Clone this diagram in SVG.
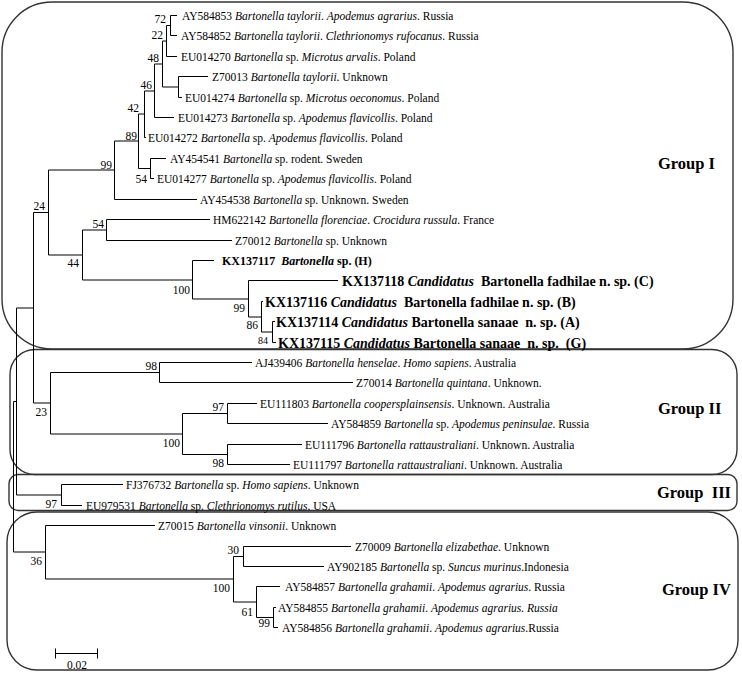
<svg xmlns="http://www.w3.org/2000/svg" width="742" height="673" viewBox="0 0 742 673">
<style>
text{font-family:"Liberation Serif","Times New Roman",serif;fill:#000;white-space:pre}
.t{font-size:11.5px}
.i{font-style:italic}
.bs{font-size:11.5px;text-anchor:end}
.sm{font-size:10px}
.kx{font-size:14px;font-weight:bold}
.kh{font-size:12px;font-weight:bold}
.g{font-size:16.5px;font-weight:bold}
.br{fill:none;stroke:#000;stroke-width:1}
.box{fill:none;stroke:#333;stroke-width:1.4}
</style>
<rect width="742" height="673" fill="#fff"/>
<g id="boxes">
<rect id="box-group1" class="box" x="2" y="2" width="731" height="347" rx="50"/>
<rect id="box-group2" class="box" x="10" y="349.5" width="727" height="125" rx="25"/>
<rect id="box-group3" class="box" x="9" y="474.5" width="728" height="36" rx="9"/>
<rect id="box-group4" class="box" x="7" y="512" width="731" height="158" rx="30"/>
</g>
<g id="connectors" class="br">
<path d="M170.5 15.5V35.5M170.5 15.5H177M170.5 35.5H177"/>
<path d="M166.5 25.5V56.5M166.5 25.5H170.5M166.5 56.5H177"/>
<path d="M178.5 76.5V97.5M178.5 76.5H208M178.5 97.5H182"/>
<path d="M162.5 41V87M162.5 41H166.5M162.5 87H178.5"/>
<path d="M154.5 64V117.5M154.5 64H162.5M154.5 117.5H174"/>
<path d="M144.5 91V137.5M144.5 91H154.5M144.5 137.5H146"/>
<path d="M150.5 158.5V178.5M150.5 158.5H166M150.5 178.5H154"/>
<path d="M138.5 114V168.5M138.5 114H144.5M138.5 168.5H150.5"/>
<path d="M114.5 141V199.5M114.5 141H138.5M114.5 199.5H197"/>
<path d="M106.5 219.5V240.5M106.5 219.5H210M106.5 240.5H232"/>
<path d="M272.5 321.5V342.5M272.5 321.5H275M272.5 342.5H276"/>
<path d="M261.5 301.5V332M261.5 301.5H263M261.5 332H272.5"/>
<path d="M248.5 280.5V317M248.5 280.5H338M248.5 317H261.5"/>
<path d="M192.5 260.5V299M192.5 260.5H214M192.5 299H248.5"/>
<path d="M82.5 230V280M82.5 230H106.5M82.5 280H192.5"/>
<path d="M48.5 170V255M48.5 170H114.5M48.5 255H82.5"/>
<path d="M159.5 362.5V382.5M159.5 362.5H252M159.5 382.5H353"/>
<path d="M227.5 403.5V423.5M227.5 403.5H257M227.5 423.5H328"/>
<path d="M227.5 444.5V464.5M227.5 444.5H302M227.5 464.5H290"/>
<path d="M182.5 413.5V454.5M182.5 413.5H227.5M182.5 454.5H227.5"/>
<path d="M50.5 372.5V434M50.5 372.5H159.5M50.5 434H182.5"/>
<path d="M33.5 212.5V403M33.5 212.5H48.5M33.5 403H50.5"/>
<path d="M61.5 484.5V505.5M61.5 484.5H123M61.5 505.5H82"/>
<path d="M16.5 308V495M16.5 308H33.5M16.5 495H61.5"/>
<path d="M243.5 546.5V566.5M243.5 546.5H351M243.5 566.5H324"/>
<path d="M273.5 607.5V627.5M273.5 607.5H276M273.5 627.5H278"/>
<path d="M256.5 586.5V617.5M256.5 586.5H280M256.5 617.5H273.5"/>
<path d="M233.5 556.5V602M233.5 556.5H243.5M233.5 602H256.5"/>
<path d="M45.5 525.5V579M45.5 525.5H155M45.5 579H233.5"/>
<path d="M13.5 401.5V552M13.5 401.5H16.5M13.5 552H45.5"/>
<path d="M55 653.5H98M55.5 648.5V658.5M97.5 648.5V658.5"/>
</g>
<g id="bootstrap">
<text class="bs" x="166" y="23">72</text>
<text class="bs" x="163" y="39">22</text>
<text class="bs" x="159" y="62">48</text>
<text class="bs" x="152" y="89">46</text>
<text class="bs" x="139" y="112">42</text>
<text class="bs" x="137" y="140">89</text>
<text class="bs" x="147" y="183">54</text>
<text class="bs" x="112" y="169">99</text>
<text class="bs" x="45" y="210">24</text>
<text class="bs" x="104" y="228">54</text>
<text class="bs" x="79" y="267">44</text>
<text class="bs" x="190" y="294">100</text>
<text class="bs" x="245" y="312">99</text>
<text class="bs" x="258" y="329">86</text>
<text class="bs sm" x="268" y="344">84</text>
<text class="bs" x="157" y="370">98</text>
<text class="bs" x="47" y="416">23</text>
<text class="bs" x="224" y="411">97</text>
<text class="bs" x="180" y="447">100</text>
<text class="bs" x="224" y="467">98</text>
<text class="bs" x="57" y="508">97</text>
<text class="bs" x="42" y="565">36</text>
<text class="bs" x="239" y="554">30</text>
<text class="bs" x="230" y="592">100</text>
<text class="bs" x="253" y="616">61</text>
<text class="bs" x="270" y="627">99</text>
</g>
<g id="leaf-AY584853"><text class="t" x="182" y="19.5">AY584853 <tspan class="i">Bartonella taylorii</tspan>. <tspan class="i">Apodemus agrarius</tspan>. Russia</text></g>
<g id="leaf-AY584852"><text class="t" x="181" y="39.5">AY584852 <tspan class="i">Bartonella taylorii</tspan>. <tspan class="i">Clethrionomys rufocanus</tspan>. Russia</text></g>
<g id="leaf-EU014270"><text class="t" x="181" y="60.5">EU014270 <tspan class="i">Bartonella</tspan> sp. <tspan class="i">Microtus arvalis</tspan>. Poland</text></g>
<g id="leaf-Z70013"><text class="t" x="212" y="80.5">Z70013 <tspan class="i">Bartonella taylorii</tspan>. Unknown</text></g>
<g id="leaf-EU014274"><text class="t" x="185" y="101.5">EU014274 <tspan class="i">Bartonella</tspan> sp. <tspan class="i">Microtus oeconomus</tspan>. Poland</text></g>
<g id="leaf-EU014273"><text class="t" x="178" y="121.5">EU014273 <tspan class="i">Bartonella</tspan> sp. <tspan class="i">Apodemus flavicollis</tspan>. Poland</text></g>
<g id="leaf-EU014272"><text class="t" x="148" y="141.5">EU014272 <tspan class="i">Bartonella</tspan> sp. <tspan class="i">Apodemus flavicollis</tspan>. Poland</text></g>
<g id="leaf-AY454541"><text class="t" x="170" y="162.5">AY454541 <tspan class="i">Bartonella</tspan> sp. rodent. Sweden</text></g>
<g id="leaf-EU014277"><text class="t" x="157" y="182.5">EU014277 <tspan class="i">Bartonella</tspan> sp. <tspan class="i">Apodemus flavicollis</tspan>. Poland</text></g>
<g id="leaf-AY454538"><text class="t" x="200" y="203.5">AY454538 <tspan class="i">Bartonella</tspan> sp. Unknown. Sweden</text></g>
<g id="leaf-HM622142"><text class="t" x="213" y="223.5">HM622142 <tspan class="i">Bartonella florenciae</tspan>. <tspan class="i">Crocidura russula</tspan>. France</text></g>
<g id="leaf-Z70012"><text class="t" x="235" y="244.5">Z70012 <tspan class="i">Bartonella</tspan> sp. Unknown</text></g>
<g id="leaf-KX137117"><text class="kh" x="222" y="265">KX137117  <tspan class="i">Bartonella</tspan> sp. (H)</text></g>
<g id="leaf-KX137118"><text class="kx" x="342" y="285.5">KX137118 <tspan class="i">Candidatus</tspan>  Bartonella fadhilae n. sp. (C)</text></g>
<g id="leaf-KX137116"><text class="kx" x="265" y="306.5">KX137116 <tspan class="i">Candidatus</tspan>  Bartonella fadhilae n. sp. (B)</text></g>
<g id="leaf-KX137114"><text class="kx" x="276" y="326.5">KX137114 <tspan class="i">Candidatus</tspan> Bartonella sanaae  n. sp. (A)</text></g>
<g id="leaf-KX137115"><text class="kx" x="278" y="347.5">KX137115 <tspan class="i">Candidatus</tspan> Bartonella sanaae  n. sp.  (G)</text></g>
<g id="leaf-AJ439406"><text class="t" x="255" y="366.5">AJ439406 <tspan class="i">Bartonella henselae</tspan>. <tspan class="i">Homo sapiens</tspan>. Australia</text></g>
<g id="leaf-Z70014"><text class="t" x="356" y="386.5">Z70014 <tspan class="i">Bartonella quintana</tspan>. Unknown.</text></g>
<g id="leaf-EU111803"><text class="t" x="260" y="407.5">EU111803 <tspan class="i">Bartonella coopersplainsensis</tspan>. Unknown. Australia</text></g>
<g id="leaf-AY584859"><text class="t" x="331" y="427.5">AY584859 <tspan class="i">Bartonella</tspan> sp. <tspan class="i">Apodemus peninsulae</tspan>. Russia</text></g>
<g id="leaf-EU111796"><text class="t" x="305" y="448.5">EU111796 <tspan class="i">Bartonella rattaustraliani</tspan>. Unknown. Australia</text></g>
<g id="leaf-EU111797"><text class="t" x="293" y="468.5">EU111797 <tspan class="i">Bartonella rattaustraliani</tspan>. Unknown. Australia</text></g>
<g id="leaf-FJ376732"><text class="t" x="126" y="488.5">FJ376732 <tspan class="i">Bartonella</tspan> sp. <tspan class="i">Homo sapiens</tspan>. Unknown</text></g>
<g id="leaf-EU979531"><text class="t" x="86" y="509.5">EU979531 <tspan class="i">Bartonella</tspan> sp. <tspan class="i">Clethrionomys rutilus</tspan>. USA</text></g>
<g id="leaf-Z70015"><text class="t" x="158" y="529.5">Z70015 <tspan class="i">Bartonella vinsonii</tspan>. Unknown</text></g>
<g id="leaf-Z70009"><text class="t" x="355" y="550.5">Z70009 <tspan class="i">Bartonella elizabethae</tspan>. Unknown</text></g>
<g id="leaf-AY902185"><text class="t" x="327" y="570.5">AY902185 <tspan class="i">Bartonella</tspan> sp. <tspan class="i">Suncus murinus</tspan>.Indonesia</text></g>
<g id="leaf-AY584857"><text class="t" x="285" y="590.5">AY584857 <tspan class="i">Bartonella grahamii</tspan>. <tspan class="i">Apodemus agrarius</tspan>. Russia</text></g>
<g id="leaf-AY584855"><text class="t" x="278" y="611.5">AY584855 <tspan class="i">Bartonella grahamii</tspan>. <tspan class="i">Apodemus agrarius. Russia</tspan></text></g>
<g id="leaf-AY584856"><text class="t" x="282" y="631.5">AY584856 <tspan class="i">Bartonella grahamii</tspan>. <tspan class="i">Apodemus agrarius</tspan>.Russia</text></g>
<g id="group-labels">
<text class="g" x="658" y="169">Group I</text>
<text class="g" x="658" y="414">Group II</text>
<text class="g" x="657" y="498">Group  III</text>
<text class="g" x="662" y="595">Group IV</text>
</g>
<g id="scale-bar"><text class="t" x="77" y="668.5" text-anchor="middle">0.02</text></g>
</svg>
